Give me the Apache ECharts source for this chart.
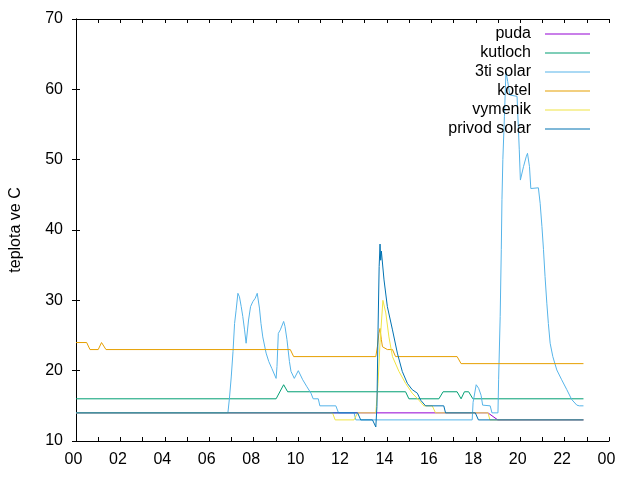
<!DOCTYPE html>
<html>
<head>
<meta charset="utf-8">
<script src="https://cdn.jsdelivr.net/npm/echarts@6/dist/echarts.min.js"></script>
<style>
  html, body { margin: 0; padding: 0; background: #fff; }
</style>
</head>
<body>
<div id="myEcharts" style="width: 640px; height: 480px;"></div>
<script>
// hodiny (decimal hours) + teplota
const seriesNames = ['puda', 'kutloch', '3ti solar', 'kotel', 'vymenik', 'privod solar'];

const pudaData = [[0, 14], [18.55, 14], [18.99, 13], [22.85, 13]];

const kutlochData = [
  [0, 16], [9.01, 16], [9.35, 18], [9.53, 17], [14.84, 17], [14.99, 16],
  [16.34, 16], [16.53, 17], [17.16, 17], [17.34, 16], [17.49, 17], [17.68, 17],
  [17.87, 16], [22.85, 16]
];

const solar3tiData = [
  [0, 14], [6.84, 14], [6.91, 16.1], [6.99, 19.1], [7.07, 22.7], [7.14, 26.7],
  [7.21, 28.6], [7.29, 31], [7.36, 30.5], [7.44, 29.1], [7.51, 27.7], [7.59, 25.8],
  [7.66, 23.9], [7.77, 27.2], [7.86, 29.1], [7.96, 29.8], [8.07, 30.3], [8.16, 31],
  [8.26, 28.9], [8.33, 26.7], [8.41, 24.8], [8.56, 22.5], [8.68, 21.3], [8.82, 20.3],
  [9.01, 18.9], [9.05, 20.6], [9.11, 25.3], [9.2, 25.8], [9.35, 27], [9.41, 26.3],
  [9.5, 24.4], [9.61, 21.3], [9.68, 19.9], [9.83, 18.9], [10.01, 20], [10.21, 18.7],
  [10.4, 17.7], [10.58, 16.8], [10.68, 16], [10.91, 16], [10.98, 15], [11.7, 15],
  [11.82, 14], [12.52, 14], [12.6, 13], [17.84, 13], [17.88, 15.5], [18.02, 18],
  [18.13, 17.5], [18.24, 16.5], [18.31, 15.1], [18.65, 15], [18.73, 14], [19.0, 14],
  [19.03, 18.7], [19.1, 27.7], [19.15, 37.2], [19.18, 44.3], [19.22, 50], [19.29, 56.1],
  [19.36, 62.5], [19.44, 61.1], [19.53, 59.2], [19.86, 59], [19.96, 51.4], [20.01, 47.1],
  [20.05, 46.9], [20.15, 49], [20.27, 50.4], [20.33, 50.9], [20.42, 49], [20.48, 45.9],
  [20.82, 46], [20.9, 43.8], [20.98, 40.5], [21.05, 37.2], [21.12, 33.4], [21.2, 29.6],
  [21.27, 26.7], [21.35, 23.9], [21.47, 22], [21.65, 20.1], [21.87, 18.7], [22.1, 17.3],
  [22.32, 15.9], [22.55, 15.1], [22.66, 15], [22.85, 15]
];

const kotelData = [
  [0, 24], [0.48, 24], [0.63, 23], [1.0, 23], [1.15, 24], [1.35, 23], [9.65, 23],
  [9.8, 22], [13.5, 22], [13.57, 23.4], [13.64, 25.3], [13.69, 26], [13.75, 24.4],
  [13.8, 23.4], [14.02, 23], [14.25, 23], [14.39, 22], [17.16, 22], [17.34, 21],
  [22.85, 21]
];

const vymenikData = [
  [0, 14], [11.55, 14], [11.67, 13], [12.52, 13], [12.68, 14], [13.5, 14],
  [13.6, 18.2], [13.69, 24], [13.82, 30], [13.95, 28.2], [14.09, 24.8], [14.25, 22],
  [14.54, 19.9], [14.84, 18.2], [15.14, 16.8], [15.44, 15.8], [15.66, 15], [16.04, 15],
  [16.19, 14], [18.55, 14], [18.64, 13], [22.85, 13]
];

const privodData = [
  [0, 14], [12.68, 14], [12.82, 13], [13.35, 13], [13.5, 12], [13.55, 14.9],
  [13.6, 25.8], [13.65, 34.8], [13.69, 38], [13.72, 35.7], [13.75, 37], [13.87, 32.9],
  [14.02, 29.1], [14.25, 25.8], [14.47, 22.5], [14.69, 19.9], [14.92, 18.2],
  [15.14, 17.3], [15.37, 16.8], [15.52, 15.8], [15.74, 15], [16.56, 15], [16.64, 14],
  [17.98, 14], [18.12, 13], [22.85, 13]
];

const allData = [pudaData, kutlochData, solar3tiData, kotelData, vymenikData, privodData];
const colors = ['#9400d3', '#009e73', '#56b4e9', '#e69f00', '#f0e442', '#0072b2'];

const fontName = '"Liberation Sans", Arial, sans-serif';

const hourLabel = (v) => {
  if (v % 2 !== 0) return '';
  const h = v % 24;
  return (h < 10 ? '0' : '') + h;
};

let chart = echarts.init(document.getElementById('myEcharts'));

chart.setOption({
  animation: false,
  color: colors,
  textStyle: { fontFamily: fontName },
  grid: { left: 74, right: 31, top: 19, bottom: 39 },
  legend: {
    orient: 'vertical',
    align: 'right',
    right: 45,
    top: 21,
    icon: 'rect',
    itemWidth: 45,
    itemHeight: 1,
    itemGap: 3,
    textStyle: {
      fontSize: 16,
      color: '#000',
      fontFamily: fontName,
      padding: [0, 9, 0, 0]
    },
    data: seriesNames
  },
  xAxis: [
    {
      type: 'value',
      min: 0,
      max: 24,
      interval: 1,
      axisLine: { lineStyle: { color: '#000', width: 1 } },
      axisTick: { inside: true, length: 4, lineStyle: { color: '#000' } },
      axisLabel: {
        formatter: hourLabel, fontSize: 16, color: '#000', margin: 11,
        fontFamily: fontName, padding: [0, 5, 0, 0]
      },
      splitLine: { show: false }
    },
    {
      type: 'value',
      position: 'top',
      min: 0,
      max: 24,
      interval: 1,
      axisLine: { show: true, lineStyle: { color: '#000', width: 1 } },
      axisTick: { inside: true, length: 4, lineStyle: { color: '#000' } },
      axisLabel: { show: false },
      splitLine: { show: false }
    }
  ],
  yAxis: [
    {
      type: 'value',
      min: 10,
      max: 70,
      interval: 10,
      name: 'teplota ve C',
      nameLocation: 'middle',
      nameGap: 52,
      nameTextStyle: { fontSize: 16, color: '#000', fontFamily: fontName },
      axisLine: { show: true, lineStyle: { color: '#000', width: 1 } },
      axisTick: { show: true, inside: true, length: 4, lineStyle: { color: '#000' } },
      axisLabel: { fontSize: 16, color: '#000', margin: 13, fontFamily: fontName },
      splitLine: { show: false }
    },
    {
      type: 'value',
      position: 'right',
      min: 10,
      max: 70,
      interval: 10,
      axisLine: { show: true, lineStyle: { color: '#000', width: 1 } },
      axisTick: { show: true, inside: true, length: 4, lineStyle: { color: '#000' } },
      axisLabel: { show: false },
      splitLine: { show: false }
    }
  ],
  series: seriesNames.map((name, i) => ({
    name: name,
    type: 'line',
    data: allData[i],
    symbol: 'none',
    lineStyle: { width: 1, color: colors[i] },
    itemStyle: { color: colors[i] }
  }))
});

window.onresize = function () {
  chart.resize();
};
</script>
</body>
</html>
